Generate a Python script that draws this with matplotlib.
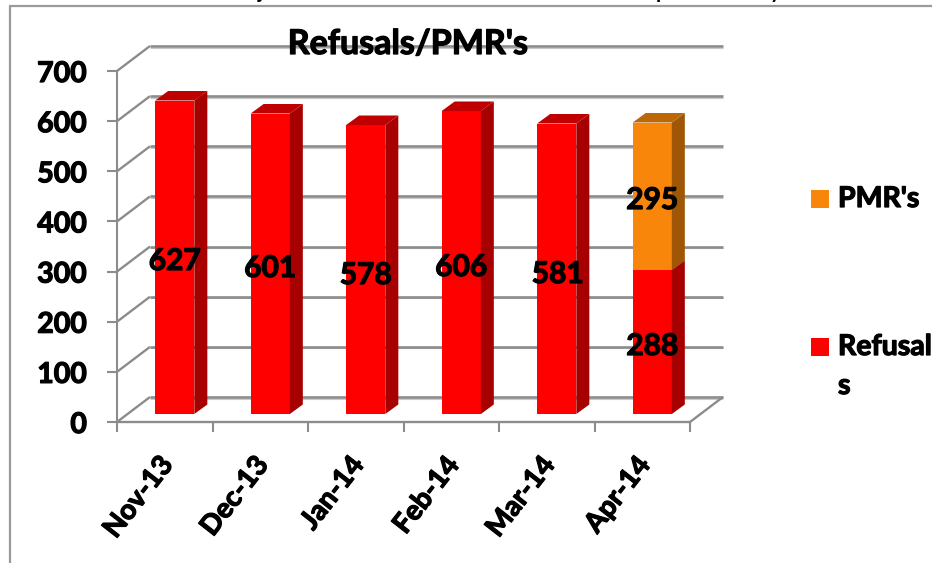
import matplotlib
matplotlib.use("Agg")
import matplotlib.pyplot as plt
import matplotlib.patheffects as pe
from matplotlib.patches import Polygon, Rectangle
from matplotlib.lines import Line2D
from matplotlib.transforms import IdentityTransform, Affine2D

# data
months = ["Nov-13", "Dec-13", "Jan-14", "Feb-14", "Mar-14", "Apr-14"]
refusals = [627, 601, 578, 606, 581, 288]
pmrs = [0, 0, 0, 0, 0, 295]
y_ticks = [0, 100, 200, 300, 400, 500, 600, 700]

plt.rcParams["font.family"] = ["Lato", "DejaVu Sans"]
plt.rcParams["font.weight"] = "bold"

W, H = 932, 563
fig = plt.figure(figsize=(W / 100, H / 100), dpi=100)
# front plane of the fake 3d box
ax = fig.add_axes([117 / W, 1 - 422 / H, 573 / W, 351 / H])
ax.set_xlim(0, 6)
ax.set_ylim(0, 700)
ax.axis("off")

px = IdentityTransform()
grey = "#8c8c8c"
heavy = [pe.withStroke(linewidth=0.9, foreground="black")]


def to_px(x, y, dx=0, dy=0):
    a, b = ax.transData.transform((x, y))
    return (a + dx, b + dy)


def line(p, q, color=grey, lw=1.9, z=1):
    fig.add_artist(Line2D([p[0], q[0]], [p[1], q[1]], color=color, lw=lw, transform=px, zorder=z,
                          solid_capstyle="butt"))


def face(pts, color, z=3):
    fig.add_artist(Polygon(pts, closed=True, facecolor=color, edgecolor="none", transform=px, zorder=z))


# outer chart border
line((9.5, 0), (9.5, H - 6), "#9a9a9a", 1.6)
line((9, H - 6), (W, H - 6), "#9a9a9a", 1.6)

# text cut off by the chart border on top, only the descenders show
for xp, ch in [(258, "j"), (656, "p"), (770, "y")]:
    fig.text(xp / W, 1 + 2 / H, ch, ha="left", va="baseline", fontsize=15, color="black")

# walls and gridlines
BX, BY = 33, 25
for t in y_ticks:
    line(to_px(0, t), to_px(0, t, BX, BY), lw=1.7)
    line(to_px(0, t, BX, BY), to_px(6, t, BX, BY))
    line(to_px(0, t, BX, BY - 1.5), to_px(6, t, BX, BY - 1.5), "#c8c8c8", 0.8, 0.5)
    line(to_px(0, t), to_px(0, t, -10, 0), lw=1.5)
    ax.text(0, t, str(t), transform=ax.transData + Affine2D().translate(-30, -3),
            ha="right", va="center", fontsize=20.5, color="black", path_effects=heavy)
line(to_px(0, 0), to_px(0, 700), lw=1.5)
line(to_px(0, 0), to_px(6, 0), lw=1.7)
line(to_px(6, 0), to_px(6, 0, BX, BY), lw=1.7)
for i in range(7):
    line(to_px(i, 0), to_px(i, 0, 0, -10), lw=1.5)

# bars
BAR_DX, BAR_DY = 10, 8
DX, DY = 13, 9.5
HALF = 0.205
scale = 0.5 / (351 / 700)


def draw_bar(i, bottom, value, front, side, top):
    if value == 0:
        return
    x0, y0 = to_px(i + 0.5 - HALF, bottom * scale, BAR_DX, BAR_DY)
    x1, y1 = to_px(i + 0.5 + HALF, (bottom + value) * scale, BAR_DX, BAR_DY)
    face([(x0, y0), (x1, y0), (x1, y1), (x0, y1)], front)
    face([(x1, y0), (x1 + DX, y0 + DY), (x1 + DX, y1 + DY), (x1, y1)], side)
    face([(x0, y1), (x1, y1), (x1 + DX, y1 + DY), (x0 + DX, y1 + DY)], top)


for i, month in enumerate(months):
    draw_bar(i, 0, refusals[i], "#ff0000", "#a60000", "#c00000")
    draw_bar(i, refusals[i], pmrs[i], "#f7860b", "#a05705", "#bd6806")
    # month labels
    a, b = to_px(i + 0.5, 0, 3, -38)
    fig.text(a / W, b / H, month, rotation=52, rotation_mode="anchor", ha="right", va="center",
             fontsize=20, color="black", zorder=6, path_effects=heavy)

# value labels
label_x = [1, 1, 1, 1, 2, 1]
label_y = [261, 268, 275, 267, 274, 346]
for i in range(6):
    fig.text((to_px(i + 0.5, 0)[0] + 9 + label_x[i]) / W, 1 - label_y[i] / H, str(refusals[i]), ha="center",
             va="center", fontsize=21.5, color="black", zorder=6, path_effects=heavy)
fig.text((to_px(5.5, 0)[0] + 10) / W, 1 - 200 / H, str(pmrs[5]), ha="center", va="center", fontsize=21.5,
         color="black", zorder=6, path_effects=heavy)

# title
fig.text(408 / W, 1 - 44 / H, "Refusals/PMR's", ha="center", va="center", fontsize=24.5, color="black", zorder=6,
         path_effects=heavy)

# legend
fig.add_artist(Rectangle((811, H - 208), 18, 18, facecolor="#f7860b", edgecolor="none", transform=px))
fig.add_artist(Rectangle((811, H - 356), 18, 18, facecolor="#ff0000", edgecolor="none", transform=px))
fig.text(838 / W, 1 - 199 / H, "PMR's", ha="left", va="center", fontsize=20.5, color="black", path_effects=heavy)
fig.text(838 / W, 1 - 347 / H, "Refusal", ha="left", va="center", fontsize=20.5, color="black", path_effects=heavy)
fig.text(838 / W, 1 - 386 / H, "s", ha="left", va="center", fontsize=20.5, color="black", path_effects=heavy)

fig.savefig("out.png", dpi=100)
